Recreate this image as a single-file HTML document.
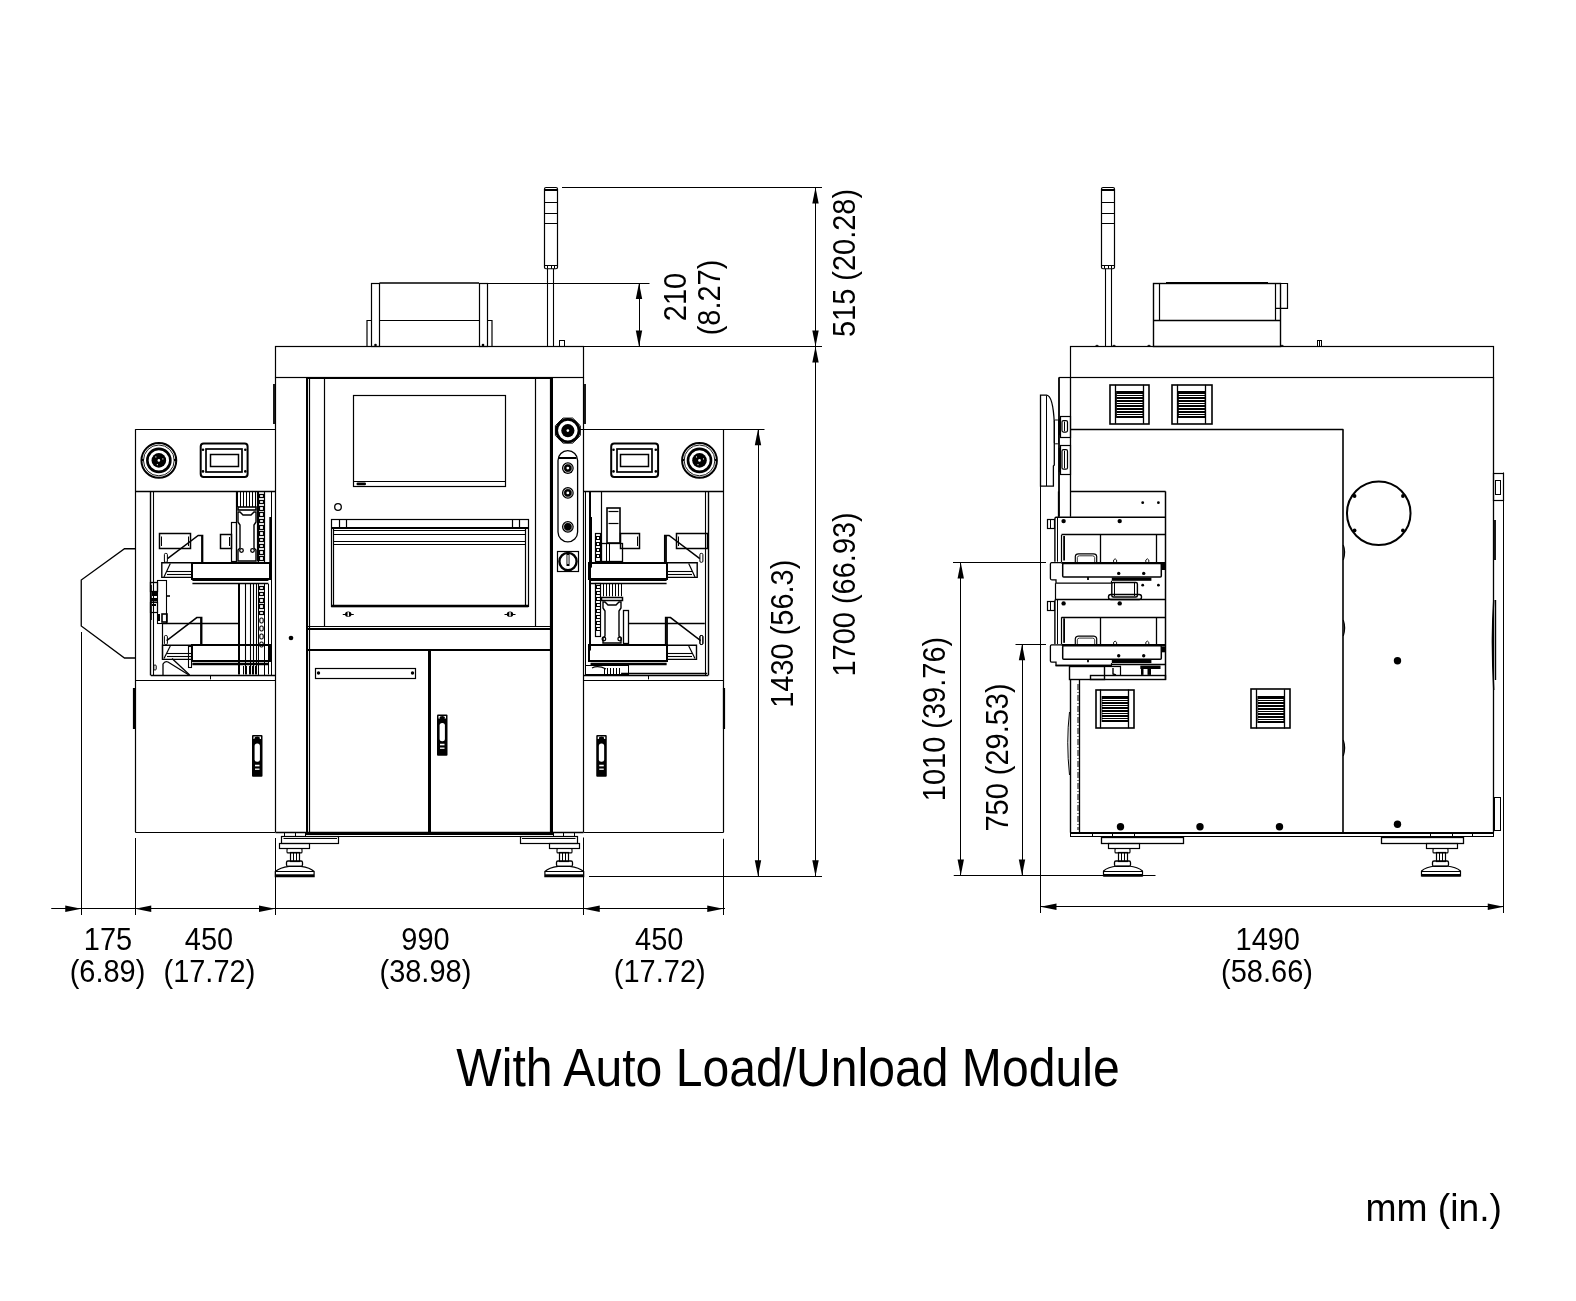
<!DOCTYPE html>
<html><head><meta charset="utf-8"><style>
html,body{margin:0;padding:0;background:#fff;}
svg{display:block;will-change:transform;}
text{font-family:"Liberation Sans",sans-serif;fill:#000;stroke:none;}
</style></head><body>
<svg width="1576" height="1301" viewBox="0 0 1576 1301" stroke="#000" fill="none" stroke-linecap="butt">
<line x1="562" y1="187.5" x2="822" y2="187.5" stroke-width="1"/>
<line x1="487" y1="283.5" x2="649.5" y2="283.5" stroke-width="1"/>
<line x1="583.5" y1="346.5" x2="822" y2="346.5" stroke-width="1"/>
<line x1="580" y1="429.5" x2="764.5" y2="429.5" stroke-width="1"/>
<line x1="589" y1="876.5" x2="822" y2="876.5" stroke-width="1"/>
<line x1="815.5" y1="187.5" x2="815.5" y2="876.25" stroke-width="1"/>
<polygon points="815.5,187.5 812.3,203.5 818.7,203.5" stroke="none" fill="#000"/>
<polygon points="815.5,346.5 812.3,330.5 818.7,330.5" stroke="none" fill="#000"/>
<polygon points="815.5,346.5 812.3,362.5 818.7,362.5" stroke="none" fill="#000"/>
<polygon points="815.5,876.25 812.3,860.25 818.7,860.25" stroke="none" fill="#000"/>
<line x1="639.5" y1="283" x2="639.5" y2="346.5" stroke-width="1"/>
<polygon points="639,283 635.8,299 642.2,299" stroke="none" fill="#000"/>
<polygon points="639,346.5 635.8,330.5 642.2,330.5" stroke="none" fill="#000"/>
<line x1="758.5" y1="429.25" x2="758.5" y2="876.25" stroke-width="1"/>
<polygon points="758,429.25 754.8,445.25 761.2,445.25" stroke="none" fill="#000"/>
<polygon points="758,876.25 754.8,860.25 761.2,860.25" stroke="none" fill="#000"/>
<line x1="51.25" y1="908.5" x2="725" y2="908.5" stroke-width="1"/>
<polygon points="81.25,908.75 65.25,905.55 65.25,911.95" stroke="none" fill="#000"/>
<polygon points="135.25,908.75 151.25,905.55 151.25,911.95" stroke="none" fill="#000"/>
<polygon points="275,908.75 259,905.55 259,911.95" stroke="none" fill="#000"/>
<polygon points="583.75,908.75 599.75,905.55 599.75,911.95" stroke="none" fill="#000"/>
<polygon points="723.25,908.75 707.25,905.55 707.25,911.95" stroke="none" fill="#000"/>
<line x1="81.5" y1="632" x2="81.5" y2="915" stroke-width="1"/>
<line x1="135.5" y1="838" x2="135.5" y2="915" stroke-width="1"/>
<line x1="275.5" y1="838" x2="275.5" y2="915" stroke-width="1"/>
<line x1="583.5" y1="837.5" x2="583.5" y2="915" stroke-width="1"/>
<line x1="723.5" y1="838.75" x2="723.5" y2="915" stroke-width="1"/>
<line x1="953" y1="562.5" x2="1046" y2="562.5" stroke-width="1"/>
<line x1="1015.5" y1="644.5" x2="1046" y2="644.5" stroke-width="1"/>
<line x1="953.75" y1="875.5" x2="1155.5" y2="875.5" stroke-width="1"/>
<line x1="960.5" y1="562.5" x2="960.5" y2="875.5" stroke-width="1"/>
<polygon points="960.75,562.5 957.55,578.5 963.95,578.5" stroke="none" fill="#000"/>
<polygon points="960.75,875.5 957.55,859.5 963.95,859.5" stroke="none" fill="#000"/>
<line x1="1022.5" y1="644.25" x2="1022.5" y2="875.5" stroke-width="1"/>
<polygon points="1022,644.25 1018.8,660.25 1025.2,660.25" stroke="none" fill="#000"/>
<polygon points="1022,875.5 1018.8,859.5 1025.2,859.5" stroke="none" fill="#000"/>
<line x1="1040.5" y1="486" x2="1040.5" y2="913" stroke-width="1"/>
<line x1="1503.5" y1="472.5" x2="1503.5" y2="913" stroke-width="1"/>
<line x1="1040.5" y1="906.5" x2="1503.75" y2="906.5" stroke-width="1"/>
<polygon points="1040.5,906.75 1056.5,903.55 1056.5,909.95" stroke="none" fill="#000"/>
<polygon points="1503.75,906.75 1487.75,903.55 1487.75,909.95" stroke="none" fill="#000"/>
<rect x="275.5" y="346.5" width="308" height="31" stroke-width="1.2" fill="none"/>
<line x1="275.5" y1="377.5" x2="275.5" y2="832.4" stroke-width="1.2"/>
<line x1="583.5" y1="377.5" x2="583.5" y2="832.4" stroke-width="1.2"/>
<line x1="274" y1="384" x2="274" y2="424" stroke-width="1.8"/>
<line x1="585" y1="384" x2="585" y2="424" stroke-width="1.8"/>
<line x1="307" y1="377.5" x2="307" y2="834" stroke-width="2"/>
<line x1="309.5" y1="377.5" x2="309.5" y2="834" stroke-width="1.2"/>
<line x1="550.5" y1="377.5" x2="550.5" y2="834" stroke-width="1.2"/>
<line x1="552" y1="377.5" x2="552" y2="834" stroke-width="2"/>
<line x1="307" y1="378" x2="552.2" y2="378" stroke-width="2"/>
<line x1="324.5" y1="378" x2="324.5" y2="626.25" stroke-width="1.2"/>
<line x1="535.5" y1="378" x2="535.5" y2="626.25" stroke-width="1.2"/>
<line x1="307" y1="626.5" x2="552" y2="626.5" stroke-width="1.2"/>
<line x1="307" y1="629" x2="552" y2="629" stroke-width="2"/>
<line x1="307" y1="650" x2="552" y2="650" stroke-width="2"/>
<line x1="429.5" y1="650.5" x2="429.5" y2="834" stroke-width="3"/>
<line x1="275.5" y1="832.5" x2="583.5" y2="832.5" stroke-width="1.3"/>
<line x1="305" y1="834" x2="553.5" y2="834" stroke-width="2.2"/>
<line x1="305" y1="836.5" x2="553.5" y2="836.5" stroke-width="1.1"/>
<rect x="353.5" y="395.5" width="152" height="91" stroke-width="1.2" fill="none"/>
<line x1="353.5" y1="481.5" x2="505.5" y2="481.5" stroke-width="1.2"/>
<rect x="356.5" y="482.6" width="9.5" height="2.6" rx="1.2" stroke="none" fill="#000"/>
<circle cx="338" cy="507" r="3.3" stroke-width="1.3" fill="none"/>
<rect x="331.5" y="519.5" width="197" height="87" stroke-width="1.2" fill="none"/>
<line x1="331.25" y1="528" x2="528" y2="528" stroke-width="2.2"/>
<line x1="333.5" y1="527.5" x2="333.5" y2="606" stroke-width="1.2"/>
<line x1="525.5" y1="527.5" x2="525.5" y2="606" stroke-width="1.2"/>
<line x1="333.75" y1="530.5" x2="525.5" y2="530.5" stroke-width="1.2"/>
<line x1="333.75" y1="534.5" x2="525.5" y2="534.5" stroke-width="1.2"/>
<line x1="333.75" y1="541.5" x2="525.5" y2="541.5" stroke-width="1.2"/>
<line x1="333.75" y1="544.5" x2="525.5" y2="544.5" stroke-width="1.2"/>
<line x1="331.25" y1="606" x2="528" y2="606" stroke-width="2.4"/>
<line x1="339.5" y1="519" x2="339.5" y2="527.5" stroke-width="1.2"/>
<line x1="346.5" y1="519" x2="346.5" y2="527.5" stroke-width="1.2"/>
<line x1="512.5" y1="519" x2="512.5" y2="527.5" stroke-width="1.2"/>
<line x1="519.5" y1="519" x2="519.5" y2="527.5" stroke-width="1.2"/>
<ellipse cx="348.25" cy="614.2" rx="3.2" ry="2.6" stroke="none" fill="#000"/>
<line x1="342.75" y1="614.5" x2="353.75" y2="614.5" stroke-width="1"/>
<rect x="347.55" y="612.2" width="1.4" height="4" stroke="none" fill="#fff"/>
<ellipse cx="510" cy="614.2" rx="3.2" ry="2.6" stroke="none" fill="#000"/>
<line x1="504.5" y1="614.5" x2="515.5" y2="614.5" stroke-width="1"/>
<rect x="509.3" y="612.2" width="1.4" height="4" stroke="none" fill="#fff"/>
<circle cx="291" cy="638" r="2.3" stroke="none" fill="#000"/>
<rect x="315.5" y="668.5" width="100" height="10" stroke-width="1.2" fill="none"/>
<circle cx="318.5" cy="673" r="1.7" stroke="none" fill="#000"/>
<circle cx="412.5" cy="673" r="1.7" stroke="none" fill="#000"/>
<rect x="437" y="714.5" width="10.5" height="41.25" rx="1" stroke="none" fill="#000"/>
<rect x="439.6" y="723.0" width="5.3" height="18.15" rx="2.5" stroke="none" fill="#fff"/>
<rect x="440" y="743.75" width="4.5" height="1.6" stroke="none" fill="#fff"/>
<rect x="440" y="747.55" width="4.5" height="1.3" stroke="none" fill="#fff"/>
<rect x="438.5" y="716.0" width="7.5" height="2.5" stroke="none" fill="#fff"/>
<ellipse cx="442.25" cy="717.7" rx="2.75" ry="1.6" stroke="none" fill="#000"/>
<path d="M563,418.1 L572.7,418.1 L580.3,425.7 L580.3,435.5 L572.7,443.1 L563,443.1 L555.4,435.5 L555.4,425.7 Z" stroke-width="1.0" fill="none"/>
<circle cx="567.85" cy="430.6" r="11.2" stroke-width="2.8" fill="none"/>
<circle cx="567.85" cy="430.6" r="6.6" stroke-width="0" fill="#000"/>
<circle cx="567.85" cy="430.6" r="1.3" stroke="none" fill="#fff"/>
<path d="M558,532.1 L558,460.5 A9.8,9.8 0 0 1 577.6,460.5 L577.6,532.1 A9.8,9.8 0 0 1 558,532.1 Z" stroke-width="1.3" fill="none"/>
<line x1="559" y1="458" x2="576.6" y2="458" stroke-width="2"/>
<circle cx="567.85" cy="468.1" r="5.9" stroke-width="0" fill="#000"/>
<circle cx="567.85" cy="468.1" r="4.3" stroke="#fff" stroke-width="0.7" fill="none"/>
<circle cx="567.85" cy="468.1" r="1.4" stroke="none" fill="#fff"/>
<circle cx="567.85" cy="492.9" r="5.9" stroke-width="0" fill="#000"/>
<circle cx="567.85" cy="492.9" r="4.3" stroke="#fff" stroke-width="0.7" fill="none"/>
<circle cx="567.85" cy="492.9" r="1.4" stroke="none" fill="#fff"/>
<circle cx="567.85" cy="526.8" r="5.9" stroke-width="0" fill="#000"/>
<circle cx="567.85" cy="526.8" r="4.3" stroke="#fff" stroke-width="0.7" fill="none"/>
<rect x="557.5" y="551.5" width="21" height="20" stroke-width="1.2" fill="none"/>
<circle cx="568" cy="561.5" r="8.6" stroke-width="2.4" fill="none"/>
<rect x="566.5" y="553" width="3.0" height="13" stroke="none" fill="#000"/>
<rect x="567.4" y="555" width="1.2" height="9" stroke="none" fill="#fff"/>
<rect x="371.5" y="283.5" width="8" height="63" stroke-width="1.2" fill="none"/>
<rect x="479.5" y="283.5" width="8" height="63" stroke-width="1.2" fill="none"/>
<line x1="379.5" y1="283" x2="479" y2="283" stroke-width="1.6"/>
<line x1="379.5" y1="320.5" x2="479" y2="320.5" stroke-width="1.2"/>
<path d="M371.5,320.5 L367,320.5 L367,346.5" stroke-width="1.2" fill="none"/>
<path d="M487,320.5 L492,320.5 L492,346.5" stroke-width="1.2" fill="none"/>
<circle cx="375.5" cy="345" r="1.3" stroke="none" fill="#000"/>
<circle cx="483" cy="345" r="1.3" stroke="none" fill="#000"/>
<rect x="544.5" y="187.5" width="13" height="81.25" stroke-width="1.2" fill="none" rx="1.5"/>
<line x1="544.5" y1="190" x2="557.5" y2="190" stroke-width="2"/>
<line x1="544.5" y1="202.5" x2="557.5" y2="202.5" stroke-width="1"/>
<line x1="544.5" y1="213.5" x2="557.5" y2="213.5" stroke-width="1"/>
<line x1="544.5" y1="223.5" x2="557.5" y2="223.5" stroke-width="1"/>
<line x1="544.5" y1="265.5" x2="557.5" y2="265.5" stroke-width="1"/>
<line x1="547.5" y1="265.5" x2="547.5" y2="268.75" stroke-width="1"/>
<line x1="551.5" y1="265.5" x2="551.5" y2="268.75" stroke-width="1"/>
<line x1="554.5" y1="265.5" x2="554.5" y2="268.75" stroke-width="1"/>
<line x1="547.5" y1="268.75" x2="547.5" y2="346.5" stroke-width="1.1"/>
<line x1="553.5" y1="268.75" x2="553.5" y2="346.5" stroke-width="1.1"/>
<rect x="559.5" y="340.5" width="5" height="6" stroke-width="1" fill="none"/>
<g transform="translate(275,0) scale(-1,1)">
<line x1="0" y1="429.5" x2="139.75" y2="429.5" stroke-width="1.2"/>
<line x1="139.5" y1="429.25" x2="139.5" y2="832" stroke-width="1.2"/>
<line x1="0" y1="832.5" x2="139.75" y2="832.5" stroke-width="1.2"/>
<line x1="0" y1="491.5" x2="139.75" y2="491.5" stroke-width="1.4"/>
<line x1="0" y1="680.5" x2="139.75" y2="680.5" stroke-width="1.2"/>
<line x1="124.5" y1="491.3" x2="124.5" y2="675.4" stroke-width="1.4"/>
<line x1="121.5" y1="491.3" x2="121.5" y2="675.4" stroke-width="1.1"/>
<line x1="0" y1="675.5" x2="124.2" y2="675.5" stroke-width="1.4"/>
<line x1="64.5" y1="675.8" x2="64.5" y2="679.4" stroke-width="1"/>
<rect x="84.5" y="533.5" width="31" height="15" stroke-width="1.5" fill="none"/>
<line x1="86.5" y1="536.5" x2="86.5" y2="546" stroke-width="1"/>
<line x1="113.5" y1="536.5" x2="113.5" y2="546" stroke-width="1"/>
<path d="M107.5,558.7 L76.8,535.5 L72.4,535.5 L72.4,562.3" stroke-width="1.5" fill="none"/>
<line x1="73" y1="535.5" x2="73" y2="562.3" stroke-width="1.8"/>
<rect x="107.6" y="553.4" width="3" height="8.9" stroke-width="1" fill="none" rx="1.2"/>
<rect x="5" y="563" width="78" height="16" stroke-width="2" fill="none"/>
<path d="M82.6,562.7 L113.2,562.7 L113.2,577.4 L82.6,577.4" stroke-width="1.4" fill="none"/>
<line x1="82.6" y1="571.5" x2="108" y2="571.5" stroke-width="1.1"/>
<line x1="82.6" y1="574.5" x2="108" y2="574.5" stroke-width="1.1"/>
<line x1="104.7" y1="563.6" x2="111" y2="576.9" stroke-width="1.2"/>
<line x1="6.6" y1="580.5" x2="82.6" y2="580.5" stroke-width="1.1"/>
<line x1="6.6" y1="583.5" x2="82.6" y2="583.5" stroke-width="1.3"/>
<path d="M108.4,640.7 L78.2,617.6 L73.3,617.6 L73.3,644.3" stroke-width="1.5" fill="none"/>
<line x1="74" y1="617.6" x2="74" y2="644.3" stroke-width="1.8"/>
<rect x="5" y="645" width="78" height="16" stroke-width="2" fill="none"/>
<path d="M82.6,645.2 L112.5,645.2 L112.5,659.4 L82.6,659.4" stroke-width="1.4" fill="none"/>
<line x1="82.6" y1="653.5" x2="108" y2="653.5" stroke-width="1.1"/>
<line x1="82.6" y1="656.5" x2="108" y2="656.5" stroke-width="1.1"/>
<line x1="104.7" y1="646" x2="111" y2="658.5" stroke-width="1.2"/>
<rect x="107.6" y="635.5" width="3" height="9" stroke-width="1" fill="none" rx="1.2"/>
<line x1="6.6" y1="663.5" x2="82.6" y2="663.5" stroke-width="1.3"/>
<line x1="6.6" y1="664.5" x2="82.6" y2="664.5" stroke-width="1.3"/>
<rect x="3.1" y="517" width="2.6" height="45.299999999999955" stroke="none" fill="#000"/>
<line x1="3.5" y1="491.3" x2="3.5" y2="675.4" stroke-width="1"/>
<line x1="10.5" y1="492" x2="10.5" y2="562" stroke-width="1.2"/>
<line x1="16.5" y1="492" x2="16.5" y2="562" stroke-width="1.2"/>
<line x1="10.5" y1="584" x2="10.5" y2="675" stroke-width="1"/>
<line x1="16.5" y1="584" x2="16.5" y2="675" stroke-width="1"/>
<rect x="11.5" y="494.5" width="4" height="3" stroke-width="1.2" fill="none"/>
<rect x="11.5" y="500.5" width="4" height="3" stroke-width="1.2" fill="none"/>
<rect x="11.5" y="506.5" width="4" height="4" stroke-width="1.2" fill="none"/>
<rect x="11.5" y="512.5" width="4" height="4" stroke-width="1.2" fill="none"/>
<rect x="11.5" y="519.5" width="4" height="3" stroke-width="1.2" fill="none"/>
<rect x="11.5" y="525.5" width="4" height="4" stroke-width="1.2" fill="none"/>
<rect x="11.5" y="531.5" width="4" height="4" stroke-width="1.2" fill="none"/>
<rect x="11.5" y="538.5" width="4" height="3" stroke-width="1.2" fill="none"/>
<rect x="11.5" y="544.5" width="4" height="3" stroke-width="1.2" fill="none"/>
<rect x="11.5" y="550.5" width="4" height="4" stroke-width="1.2" fill="none"/>
<rect x="11.5" y="556.5" width="4" height="4" stroke-width="1.2" fill="none"/>
<rect x="11.5" y="586.5" width="4" height="3" stroke-width="1.2" fill="none"/>
<rect x="11.5" y="592.5" width="4" height="3" stroke-width="1.2" fill="none"/>
<rect x="11.5" y="598.5" width="4" height="4" stroke-width="1.2" fill="none"/>
<rect x="11.5" y="604.5" width="4" height="4" stroke-width="1.2" fill="none"/>
<rect x="11.5" y="611.5" width="4" height="3" stroke-width="1.2" fill="none"/>
<rect x="11.8" y="618" width="3.4" height="5" stroke-width="1.1" fill="none" rx="1.5"/>
<rect x="11.8" y="626" width="3.4" height="5" stroke-width="1.1" fill="none" rx="1.5"/>
<rect x="11.8" y="634" width="3.4" height="5" stroke-width="1.1" fill="none" rx="1.5"/>
<rect x="11.8" y="642" width="3.4" height="5" stroke-width="1.1" fill="none" rx="1.5"/>
<line x1="19.5" y1="492" x2="19.5" y2="507" stroke-width="1"/>
<line x1="22.5" y1="492" x2="22.5" y2="507" stroke-width="1"/>
<line x1="25.5" y1="492" x2="25.5" y2="507" stroke-width="1"/>
<line x1="28.5" y1="492" x2="28.5" y2="507" stroke-width="1"/>
<line x1="31.5" y1="492" x2="31.5" y2="507" stroke-width="1"/>
<line x1="34.5" y1="492" x2="34.5" y2="507" stroke-width="1"/>
<line x1="37.5" y1="492" x2="37.5" y2="507" stroke-width="1"/>
<line x1="17.5" y1="492" x2="17.5" y2="561.4" stroke-width="1.2"/>
<line x1="38.5" y1="492" x2="38.5" y2="561.4" stroke-width="1.2"/>
<rect x="19" y="507" width="18" height="3" stroke-width="1.6" fill="none"/>
<path d="M19,512 L21,512 L24,515 L32,515 L35,512 L37,512 L37,522 L35,525 L35,548 L37,550 L37,561 L19,561 L19,550 L21,548 L21,525 L19,522 Z" stroke-width="1.4" fill="none"/>
<circle cx="22.5" cy="550.5" r="1.8" stroke-width="1.3" fill="none"/>
<circle cx="33.5" cy="550.5" r="1.8" stroke-width="1.3" fill="none"/>
<rect x="38.5" y="522.5" width="5" height="39" stroke-width="1.2" fill="none"/>
<rect x="43.5" y="534.5" width="11" height="14" stroke-width="1.5" fill="none"/>
<line x1="45.5" y1="537" x2="45.5" y2="546" stroke-width="1"/>
<rect x="108.5" y="580.5" width="9" height="43" stroke-width="1.1" fill="none"/>
<rect x="117.5" y="582.5" width="7" height="9" stroke-width="1.3" fill="none"/>
<rect x="117.5" y="592" width="5.5" height="4" stroke="none" fill="#000"/>
<rect x="118" y="598" width="6" height="3.5" stroke="none" fill="#000"/>
<rect x="117.5" y="602.5" width="7" height="10" stroke-width="1.2" fill="none"/>
<rect x="119" y="604" width="4" height="2" stroke="none" fill="#000"/>
<line x1="108" y1="596" x2="105" y2="596" stroke-width="1.6"/>
<rect x="108" y="614" width="5" height="8" stroke-width="1.6" fill="none"/>
<rect x="115" y="614" width="3" height="7" stroke="none" fill="#000"/>
<line x1="124" y1="585" x2="124" y2="620" stroke-width="1.6"/>
<line x1="36.4" y1="623.5" x2="112.8" y2="623.5" stroke-width="1.5"/>
<line x1="112.5" y1="623.9" x2="112.5" y2="659.4" stroke-width="1.2"/>
<line x1="36" y1="583.9" x2="36" y2="674.5" stroke-width="2"/>
<line x1="29.5" y1="583.9" x2="29.5" y2="674.5" stroke-width="1.1"/>
<line x1="24.5" y1="583.9" x2="24.5" y2="674.5" stroke-width="1.1"/>
<line x1="21.5" y1="583.9" x2="21.5" y2="674.5" stroke-width="1.1"/>
<line x1="18.5" y1="583.9" x2="18.5" y2="674.5" stroke-width="1.1"/>
<line x1="6.5" y1="583.9" x2="6.5" y2="674.5" stroke-width="1"/>
<rect x="83.5" y="646.5" width="3" height="21" stroke-width="1.1" fill="none"/>
<path d="M112,675 L112,664 Q110,660.5 107,662 L86.1,675" stroke-width="1.3" fill="none"/>
<line x1="103" y1="658.5" x2="85.3" y2="675" stroke-width="1.3"/>
<rect x="118.8" y="665" width="2.4" height="5" stroke-width="1" fill="none" rx="1"/>
<line x1="19.5" y1="666" x2="19.5" y2="674.5" stroke-width="1"/>
<line x1="22.5" y1="666" x2="22.5" y2="674.5" stroke-width="1"/>
<line x1="25.5" y1="666" x2="25.5" y2="674.5" stroke-width="1"/>
<line x1="28.5" y1="666" x2="28.5" y2="674.5" stroke-width="1"/>
<line x1="31.5" y1="666" x2="31.5" y2="674.5" stroke-width="1"/>
</g>
<g transform="translate(584,0) scale(1,1)">
<line x1="0" y1="429.5" x2="139.75" y2="429.5" stroke-width="1.2"/>
<line x1="139.5" y1="429.25" x2="139.5" y2="832" stroke-width="1.2"/>
<line x1="0" y1="832.5" x2="139.75" y2="832.5" stroke-width="1.2"/>
<line x1="0" y1="491.5" x2="139.75" y2="491.5" stroke-width="1.4"/>
<line x1="0" y1="680.5" x2="139.75" y2="680.5" stroke-width="1.2"/>
<line x1="124.5" y1="491.3" x2="124.5" y2="675.4" stroke-width="1.4"/>
<line x1="121.5" y1="491.3" x2="121.5" y2="675.4" stroke-width="1.1"/>
<line x1="0" y1="675.5" x2="124.2" y2="675.5" stroke-width="1.4"/>
<line x1="64.5" y1="675.8" x2="64.5" y2="679.4" stroke-width="1"/>
<rect x="92.5" y="533.5" width="31" height="15" stroke-width="1.5" fill="none"/>
<line x1="94.5" y1="536.5" x2="94.5" y2="546" stroke-width="1"/>
<line x1="121.5" y1="536.5" x2="121.5" y2="546" stroke-width="1"/>
<path d="M115.8,558.7 L85.1,535.5 L80.7,535.5 L80.7,562.3" stroke-width="1.5" fill="none"/>
<line x1="82" y1="535.5" x2="82" y2="562.3" stroke-width="1.8"/>
<rect x="115.9" y="553.4" width="3" height="8.9" stroke-width="1" fill="none" rx="1.2"/>
<rect x="5" y="563" width="78" height="16" stroke-width="2" fill="none"/>
<path d="M82.6,562.7 L113.2,562.7 L113.2,577.4 L82.6,577.4" stroke-width="1.4" fill="none"/>
<line x1="82.6" y1="571.5" x2="108" y2="571.5" stroke-width="1.1"/>
<line x1="82.6" y1="574.5" x2="108" y2="574.5" stroke-width="1.1"/>
<line x1="104.7" y1="563.6" x2="111" y2="576.9" stroke-width="1.2"/>
<line x1="6.6" y1="580.5" x2="82.6" y2="580.5" stroke-width="1.1"/>
<line x1="6.6" y1="583.5" x2="82.6" y2="583.5" stroke-width="1.3"/>
<path d="M116.7,640.7 L86.5,617.6 L81.6,617.6 L81.6,644.3" stroke-width="1.5" fill="none"/>
<line x1="83" y1="617.6" x2="83" y2="644.3" stroke-width="1.8"/>
<rect x="5" y="645" width="78" height="16" stroke-width="2" fill="none"/>
<path d="M82.6,645.2 L112.5,645.2 L112.5,659.4 L82.6,659.4" stroke-width="1.4" fill="none"/>
<line x1="82.6" y1="653.5" x2="108" y2="653.5" stroke-width="1.1"/>
<line x1="82.6" y1="656.5" x2="108" y2="656.5" stroke-width="1.1"/>
<line x1="104.7" y1="646" x2="111" y2="658.5" stroke-width="1.2"/>
<rect x="115.9" y="635.5" width="3" height="9" stroke-width="1" fill="none" rx="1.2"/>
<line x1="6.6" y1="663.5" x2="82.6" y2="663.5" stroke-width="1.3"/>
<line x1="6.6" y1="664.5" x2="82.6" y2="664.5" stroke-width="1.3"/>
<line x1="17.5" y1="491.3" x2="17.5" y2="543.6" stroke-width="1.2"/>
<rect x="5.3" y="517" width="2.7" height="50.60000000000002" stroke="none" fill="#000"/>
<line x1="1.5" y1="491.3" x2="1.5" y2="675.4" stroke-width="1"/>
<line x1="6" y1="491.3" x2="6" y2="650.5" stroke-width="2"/>
<rect x="11.5" y="533.5" width="5" height="28" stroke-width="1.2" fill="none"/>
<rect x="12.5" y="536.5" width="3" height="3" stroke-width="1" fill="none"/>
<rect x="12.5" y="542.5" width="3" height="3" stroke-width="1" fill="none"/>
<rect x="12.5" y="548.5" width="3" height="3" stroke-width="1" fill="none"/>
<rect x="12.5" y="554.5" width="3" height="3" stroke-width="1" fill="none"/>
<rect x="23" y="508" width="13" height="35" stroke-width="1.6" fill="none"/>
<line x1="24.5" y1="511.5" x2="34.5" y2="511.5" stroke-width="1.2"/>
<line x1="24.5" y1="523.5" x2="34.5" y2="523.5" stroke-width="1.2"/>
<rect x="17.5" y="543.5" width="21" height="18" stroke-width="1.3" fill="none"/>
<line x1="22.5" y1="544" x2="22.5" y2="561" stroke-width="1"/>
<line x1="25.5" y1="544" x2="25.5" y2="561" stroke-width="1"/>
<rect x="36.5" y="533.5" width="19" height="15" stroke-width="1.5" fill="none"/>
<line x1="53.5" y1="536.5" x2="53.5" y2="546" stroke-width="1"/>
<rect x="11.5" y="583.5" width="5" height="53" stroke-width="1.2" fill="none"/>
<rect x="12.5" y="585.5" width="4" height="3" stroke-width="1" fill="none"/>
<rect x="12.5" y="591.5" width="4" height="3" stroke-width="1" fill="none"/>
<rect x="12.5" y="597.5" width="4" height="3" stroke-width="1" fill="none"/>
<rect x="12.5" y="603.5" width="4" height="3" stroke-width="1" fill="none"/>
<rect x="12.5" y="609.5" width="4" height="3" stroke-width="1" fill="none"/>
<rect x="12.5" y="615.5" width="4" height="3" stroke-width="1" fill="none"/>
<rect x="12.5" y="621.5" width="4" height="3" stroke-width="1" fill="none"/>
<rect x="12.5" y="627.5" width="4" height="3" stroke-width="1" fill="none"/>
<line x1="19.5" y1="583.9" x2="19.5" y2="596.3" stroke-width="1"/>
<line x1="22.5" y1="583.9" x2="22.5" y2="596.3" stroke-width="1"/>
<line x1="25.5" y1="583.9" x2="25.5" y2="596.3" stroke-width="1"/>
<line x1="28.5" y1="583.9" x2="28.5" y2="596.3" stroke-width="1"/>
<line x1="31.5" y1="583.9" x2="31.5" y2="596.3" stroke-width="1"/>
<line x1="34.5" y1="583.9" x2="34.5" y2="596.3" stroke-width="1"/>
<line x1="37.5" y1="583.9" x2="37.5" y2="596.3" stroke-width="1"/>
<rect x="17.5" y="597.5" width="21" height="3" stroke-width="1.5" fill="none"/>
<path d="M19,602 L21,602 L24,605 L32,605 L35,602 L37,602 L37,608 L35,611 L35,636 L37,638 L37,643 L19,643 L19,638 L21,636 L21,611 L19,608 Z" stroke-width="1.4" fill="none"/>
<circle cx="19.9" cy="639" r="1.8" stroke-width="1.3" fill="none"/>
<circle cx="35.7" cy="639" r="1.8" stroke-width="1.3" fill="none"/>
<rect x="39.5" y="610.5" width="5" height="33" stroke-width="1.3" fill="none"/>
<line x1="44.4" y1="623.5" x2="120.8" y2="623.5" stroke-width="1.5"/>
<rect x="1.5" y="665.5" width="43" height="9" stroke-width="1" fill="none"/>
<line x1="20.5" y1="668" x2="20.5" y2="674.5" stroke-width="1"/>
<line x1="23.5" y1="668" x2="23.5" y2="674.5" stroke-width="1"/>
<line x1="26.5" y1="668" x2="26.5" y2="674.5" stroke-width="1"/>
<line x1="29.5" y1="668" x2="29.5" y2="674.5" stroke-width="1"/>
<line x1="32.5" y1="668" x2="32.5" y2="674.5" stroke-width="1"/>
<line x1="35.5" y1="668" x2="35.5" y2="674.5" stroke-width="1"/>
<path d="M8,668 Q14,665 22,669" stroke-width="1.3" fill="none"/>
<line x1="37.1" y1="673.5" x2="123.2" y2="673.5" stroke-width="1.5"/>
<rect x="115.9" y="635.5" width="3" height="9" stroke-width="1" fill="none" rx="1.2"/>
</g>
<circle cx="158.85" cy="460.4" r="17.4" stroke-width="2.0" fill="none"/>
<circle cx="158.85" cy="460.4" r="15.4" stroke-width="0.9" fill="none"/>
<circle cx="158.85" cy="460.4" r="11.5" stroke-width="2.6" fill="none"/>
<circle cx="158.85" cy="460.4" r="7.3" stroke-width="0" fill="#000"/>
<circle cx="155.85" cy="456.9" r="0.6" stroke="none" fill="#fff"/>
<circle cx="162.85" cy="458.9" r="0.6" stroke="none" fill="#fff"/>
<circle cx="157.35" cy="464.7" r="0.6" stroke="none" fill="#fff"/>
<circle cx="158.85" cy="460.4" r="1.3" stroke="none" fill="#fff"/>
<line x1="141.45" y1="460" x2="143.85" y2="460" stroke-width="2"/>
<line x1="173.85" y1="460" x2="176.25" y2="460" stroke-width="2"/>
<rect x="200.7" y="443.6" width="46.9" height="33.5" stroke-width="2" fill="none" rx="3"/>
<rect x="206" y="449" width="36" height="23" stroke-width="1.7" fill="none"/>
<rect x="210.5" y="454.5" width="28" height="12" stroke-width="1.5" fill="none"/>
<circle cx="203.0" cy="449.70000000000005" r="1.3" stroke="none" fill="#000"/>
<circle cx="203.0" cy="471.40000000000003" r="1.3" stroke="none" fill="#000"/>
<circle cx="245.29999999999998" cy="449.70000000000005" r="1.3" stroke="none" fill="#000"/>
<circle cx="245.29999999999998" cy="471.40000000000003" r="1.3" stroke="none" fill="#000"/>
<circle cx="699.5" cy="460.4" r="17.4" stroke-width="2.0" fill="none"/>
<circle cx="699.5" cy="460.4" r="15.4" stroke-width="0.9" fill="none"/>
<circle cx="699.5" cy="460.4" r="11.5" stroke-width="2.6" fill="none"/>
<circle cx="699.5" cy="460.4" r="7.3" stroke-width="0" fill="#000"/>
<circle cx="696.5" cy="456.9" r="0.6" stroke="none" fill="#fff"/>
<circle cx="703.5" cy="458.9" r="0.6" stroke="none" fill="#fff"/>
<circle cx="698.0" cy="464.7" r="0.6" stroke="none" fill="#fff"/>
<circle cx="699.5" cy="460.4" r="1.3" stroke="none" fill="#fff"/>
<line x1="682.1" y1="460" x2="684.5" y2="460" stroke-width="2"/>
<line x1="714.5" y1="460" x2="716.9" y2="460" stroke-width="2"/>
<rect x="611.2" y="443.6" width="46.9" height="33.5" stroke-width="2" fill="none" rx="3"/>
<rect x="617" y="449" width="35" height="23" stroke-width="1.7" fill="none"/>
<rect x="620.5" y="454.5" width="28" height="12" stroke-width="1.5" fill="none"/>
<circle cx="613.5" cy="449.70000000000005" r="1.3" stroke="none" fill="#000"/>
<circle cx="613.5" cy="471.40000000000003" r="1.3" stroke="none" fill="#000"/>
<circle cx="655.8000000000001" cy="449.70000000000005" r="1.3" stroke="none" fill="#000"/>
<circle cx="655.8000000000001" cy="471.40000000000003" r="1.3" stroke="none" fill="#000"/>
<rect x="252" y="735" width="10.5" height="41.75" rx="1" stroke="none" fill="#000"/>
<rect x="254.6" y="743.5" width="5.3" height="18.37" rx="2.5" stroke="none" fill="#fff"/>
<rect x="255" y="764.75" width="4.5" height="1.6" stroke="none" fill="#fff"/>
<rect x="255" y="768.55" width="4.5" height="1.3" stroke="none" fill="#fff"/>
<rect x="253.5" y="736.5" width="7.5" height="2.5" stroke="none" fill="#fff"/>
<ellipse cx="257.25" cy="738.2" rx="2.75" ry="1.6" stroke="none" fill="#000"/>
<rect x="596.25" y="735" width="10.5" height="41.75" rx="1" stroke="none" fill="#000"/>
<rect x="598.85" y="743.5" width="5.3" height="18.37" rx="2.5" stroke="none" fill="#fff"/>
<rect x="599.25" y="764.75" width="4.5" height="1.6" stroke="none" fill="#fff"/>
<rect x="599.25" y="768.55" width="4.5" height="1.3" stroke="none" fill="#fff"/>
<rect x="597.75" y="736.5" width="7.5" height="2.5" stroke="none" fill="#fff"/>
<ellipse cx="601.5" cy="738.2" rx="2.75" ry="1.6" stroke="none" fill="#000"/>
<line x1="134" y1="688" x2="134" y2="729" stroke-width="2.2"/>
<line x1="724" y1="688" x2="724" y2="729" stroke-width="2.2"/>
<path d="M135.25,548.75 L124.5,548.75 L81.25,580 L81.25,626 L124.5,658 L135.25,658" stroke-width="1.3" fill="none"/>
<g transform="translate(295,0) scale(1,1)">
<rect x="-10.5" y="832.5" width="21" height="4" stroke-width="1" fill="none"/>
<line x1="0.5" y1="832.4" x2="0.5" y2="836.5" stroke-width="1"/>
<rect x="-13.5" y="836.5" width="57" height="7" stroke-width="1.2" fill="none"/>
<line x1="-11.5" y1="838.5" x2="42" y2="838.5" stroke-width="1"/>
<rect x="-15.5" y="843.5" width="30" height="5" stroke-width="1.2" fill="none"/>
<rect x="-8" y="848.5" width="15" height="4.4" stroke-width="1.1" fill="none" rx="1"/>
<rect x="-4.5" y="852.5" width="9" height="9" stroke-width="1.2" fill="none"/>
<line x1="-1.5" y1="852.9" x2="-1.5" y2="861" stroke-width="1"/>
<line x1="1.5" y1="852.9" x2="1.5" y2="861" stroke-width="1"/>
<rect x="-8.5" y="861" width="16" height="5.3" stroke-width="1.3" fill="none" rx="1.5"/>
<path d="M-19.7,876.7 L-19.7,871.5 Q-15,867.5 -6,866.3 L6,866.3 Q15,867.5 19.1,871.5 L19.1,876.7 Z" stroke-width="1.2" fill="none"/>
<line x1="-19.7" y1="871.5" x2="19.1" y2="871.5" stroke-width="1"/>
<rect x="-19.7" y="874.3" width="38.8" height="2.7000000000000455" stroke="none" fill="#000"/>
</g>
<g transform="translate(564,0) scale(-1,1)">
<rect x="-10.5" y="832.5" width="21" height="4" stroke-width="1" fill="none"/>
<line x1="0.5" y1="832.4" x2="0.5" y2="836.5" stroke-width="1"/>
<rect x="-13.5" y="836.5" width="57" height="7" stroke-width="1.2" fill="none"/>
<line x1="-11.5" y1="838.5" x2="42" y2="838.5" stroke-width="1"/>
<rect x="-15.5" y="843.5" width="30" height="5" stroke-width="1.2" fill="none"/>
<rect x="-8" y="848.5" width="15" height="4.4" stroke-width="1.1" fill="none" rx="1"/>
<rect x="-4.5" y="852.5" width="9" height="9" stroke-width="1.2" fill="none"/>
<line x1="-1.5" y1="852.9" x2="-1.5" y2="861" stroke-width="1"/>
<line x1="1.5" y1="852.9" x2="1.5" y2="861" stroke-width="1"/>
<rect x="-8.5" y="861" width="16" height="5.3" stroke-width="1.3" fill="none" rx="1.5"/>
<path d="M-19.7,876.7 L-19.7,871.5 Q-15,867.5 -6,866.3 L6,866.3 Q15,867.5 19.1,871.5 L19.1,876.7 Z" stroke-width="1.2" fill="none"/>
<line x1="-19.7" y1="871.5" x2="19.1" y2="871.5" stroke-width="1"/>
<rect x="-19.7" y="874.3" width="38.8" height="2.7000000000000455" stroke="none" fill="#000"/>
</g>
<rect x="1070.5" y="346.5" width="423" height="31" stroke-width="1.2" fill="none"/>
<line x1="1058.75" y1="377.5" x2="1070.75" y2="377.5" stroke-width="1.2"/>
<line x1="1059" y1="377.5" x2="1059" y2="516.8" stroke-width="1.8"/>
<line x1="1070.5" y1="377.5" x2="1070.5" y2="516.8" stroke-width="1.3"/>
<line x1="1493.5" y1="377.5" x2="1493.5" y2="832.5" stroke-width="1.3"/>
<line x1="1070.4" y1="429.5" x2="1343.25" y2="429.5" stroke-width="1.3"/>
<line x1="1343" y1="429.3" x2="1343" y2="832.5" stroke-width="1.6"/>
<rect x="1110" y="385" width="39" height="39" stroke-width="1.6" fill="none"/>
<line x1="1115.5" y1="384.8" x2="1115.5" y2="423.8" stroke-width="1.3"/>
<line x1="1143.5" y1="384.8" x2="1143.5" y2="423.8" stroke-width="1.3"/>
<rect x="1116.1" y="391" width="27.200000000000273" height="27" stroke="none" fill="#000"/>
<rect x="1116.8999999999999" y="394" width="25.60000000000027" height="1" stroke="none" fill="#fff"/>
<rect x="1116.8999999999999" y="396" width="25.60000000000027" height="1" stroke="none" fill="#fff"/>
<rect x="1116.8999999999999" y="399" width="25.60000000000027" height="1" stroke="none" fill="#fff"/>
<rect x="1116.8999999999999" y="402" width="25.60000000000027" height="1" stroke="none" fill="#fff"/>
<rect x="1116.8999999999999" y="404" width="25.60000000000027" height="1" stroke="none" fill="#fff"/>
<rect x="1116.8999999999999" y="407" width="25.60000000000027" height="1" stroke="none" fill="#fff"/>
<rect x="1116.8999999999999" y="410" width="25.60000000000027" height="1" stroke="none" fill="#fff"/>
<rect x="1116.8999999999999" y="413" width="25.60000000000027" height="1" stroke="none" fill="#fff"/>
<rect x="1116.8999999999999" y="415" width="25.60000000000027" height="1" stroke="none" fill="#fff"/>
<rect x="1172" y="385" width="40" height="39" stroke-width="1.6" fill="none"/>
<line x1="1177.5" y1="384.8" x2="1177.5" y2="423.8" stroke-width="1.3"/>
<line x1="1205.5" y1="384.8" x2="1205.5" y2="423.8" stroke-width="1.3"/>
<rect x="1178.0" y="391" width="27.40000000000009" height="27" stroke="none" fill="#000"/>
<rect x="1178.8" y="394" width="25.80000000000009" height="1" stroke="none" fill="#fff"/>
<rect x="1178.8" y="396" width="25.80000000000009" height="1" stroke="none" fill="#fff"/>
<rect x="1178.8" y="399" width="25.80000000000009" height="1" stroke="none" fill="#fff"/>
<rect x="1178.8" y="402" width="25.80000000000009" height="1" stroke="none" fill="#fff"/>
<rect x="1178.8" y="404" width="25.80000000000009" height="1" stroke="none" fill="#fff"/>
<rect x="1178.8" y="407" width="25.80000000000009" height="1" stroke="none" fill="#fff"/>
<rect x="1178.8" y="410" width="25.80000000000009" height="1" stroke="none" fill="#fff"/>
<rect x="1178.8" y="413" width="25.80000000000009" height="1" stroke="none" fill="#fff"/>
<rect x="1178.8" y="415" width="25.80000000000009" height="1" stroke="none" fill="#fff"/>
<rect x="1096" y="690" width="38" height="38" stroke-width="1.6" fill="none"/>
<line x1="1100.5" y1="689.5" x2="1100.5" y2="728.3" stroke-width="1.3"/>
<line x1="1128.5" y1="689.5" x2="1128.5" y2="728.3" stroke-width="1.3"/>
<rect x="1101.6" y="696" width="26.800000000000182" height="26" stroke="none" fill="#000"/>
<rect x="1102.3999999999999" y="699" width="25.20000000000018" height="1" stroke="none" fill="#fff"/>
<rect x="1102.3999999999999" y="701" width="25.20000000000018" height="1" stroke="none" fill="#fff"/>
<rect x="1102.3999999999999" y="704" width="25.20000000000018" height="1" stroke="none" fill="#fff"/>
<rect x="1102.3999999999999" y="706" width="25.20000000000018" height="1" stroke="none" fill="#fff"/>
<rect x="1102.3999999999999" y="709" width="25.20000000000018" height="1" stroke="none" fill="#fff"/>
<rect x="1102.3999999999999" y="712" width="25.20000000000018" height="1" stroke="none" fill="#fff"/>
<rect x="1102.3999999999999" y="714" width="25.20000000000018" height="1" stroke="none" fill="#fff"/>
<rect x="1102.3999999999999" y="717" width="25.20000000000018" height="1" stroke="none" fill="#fff"/>
<rect x="1102.3999999999999" y="719" width="25.20000000000018" height="1" stroke="none" fill="#fff"/>
<rect x="1251" y="689" width="39" height="39" stroke-width="1.6" fill="none"/>
<line x1="1256.5" y1="689.3" x2="1256.5" y2="728.5" stroke-width="1.3"/>
<line x1="1284.5" y1="689.3" x2="1284.5" y2="728.5" stroke-width="1.3"/>
<rect x="1257.3999999999999" y="696" width="26.800000000000182" height="27" stroke="none" fill="#000"/>
<rect x="1258.1999999999998" y="699" width="25.20000000000018" height="1" stroke="none" fill="#fff"/>
<rect x="1258.1999999999998" y="701" width="25.20000000000018" height="1" stroke="none" fill="#fff"/>
<rect x="1258.1999999999998" y="704" width="25.20000000000018" height="1" stroke="none" fill="#fff"/>
<rect x="1258.1999999999998" y="707" width="25.20000000000018" height="1" stroke="none" fill="#fff"/>
<rect x="1258.1999999999998" y="710" width="25.20000000000018" height="1" stroke="none" fill="#fff"/>
<rect x="1258.1999999999998" y="712" width="25.20000000000018" height="1" stroke="none" fill="#fff"/>
<rect x="1258.1999999999998" y="715" width="25.20000000000018" height="1" stroke="none" fill="#fff"/>
<rect x="1258.1999999999998" y="718" width="25.20000000000018" height="1" stroke="none" fill="#fff"/>
<rect x="1258.1999999999998" y="720" width="25.20000000000018" height="1" stroke="none" fill="#fff"/>
<circle cx="1378.75" cy="513.2" r="31.8" stroke-width="2.0" fill="none"/>
<circle cx="1354.55" cy="496.00000000000006" r="1.9" stroke="none" fill="#000"/>
<circle cx="1402.95" cy="496.00000000000006" r="1.9" stroke="none" fill="#000"/>
<circle cx="1354.55" cy="530.4000000000001" r="1.9" stroke="none" fill="#000"/>
<circle cx="1402.95" cy="530.4000000000001" r="1.9" stroke="none" fill="#000"/>
<circle cx="1120.5" cy="826.75" r="3.7" stroke="none" fill="#000"/>
<circle cx="1200" cy="826.75" r="3.7" stroke="none" fill="#000"/>
<circle cx="1279.5" cy="826.75" r="3.7" stroke="none" fill="#000"/>
<circle cx="1397.5" cy="824.25" r="3.7" stroke="none" fill="#000"/>
<circle cx="1397.5" cy="660.75" r="3.7" stroke="none" fill="#000"/>
<line x1="1070" y1="833" x2="1493.75" y2="833" stroke-width="2.2"/>
<line x1="1092.5" y1="836.5" x2="1472" y2="836.5" stroke-width="1.2"/>
<rect x="1070.5" y="832.5" width="22" height="4" stroke-width="1" fill="none"/>
<rect x="1472.5" y="832.5" width="21" height="4" stroke-width="1" fill="none"/>
<rect x="1493.5" y="473.5" width="10" height="27" stroke-width="1.2" fill="none"/>
<rect x="1495.5" y="480.5" width="5" height="14" stroke-width="1" fill="none"/>
<rect x="1494.5" y="797.5" width="6" height="33" stroke-width="1" fill="none"/>
<line x1="1495" y1="520" x2="1495" y2="560" stroke-width="1.8"/>
<line x1="1495.5" y1="600" x2="1495.5" y2="680" stroke-width="1.4"/>
<line x1="1070.5" y1="680" x2="1070.5" y2="832.6" stroke-width="1.4"/>
<line x1="1079.5" y1="680" x2="1079.5" y2="832.6" stroke-width="1.3"/>
<line x1="1078" y1="684" x2="1078" y2="830" stroke-width="1.0" stroke-dasharray="6,2,1,2"/>
<path d="M1069.5,712 Q1066,742 1069.5,775" stroke-width="1.0" fill="none"/>
<path d="M1343.25,545 Q1346,552 1343.25,560" stroke-width="1.2" fill="none"/>
<path d="M1343.25,620 Q1346,628 1343.25,636" stroke-width="1.2" fill="none"/>
<path d="M1343.25,740 Q1346,748 1343.25,756" stroke-width="1.2" fill="none"/>
<path d="M1493.75,600 Q1491,640 1493.75,690" stroke-width="1.4" fill="none"/>
<rect x="1101.5" y="187.5" width="13" height="81.25" stroke-width="1.2" fill="none" rx="1.5"/>
<line x1="1101.5" y1="190" x2="1114.5" y2="190" stroke-width="2"/>
<line x1="1101.5" y1="202.5" x2="1114.5" y2="202.5" stroke-width="1"/>
<line x1="1101.5" y1="213.5" x2="1114.5" y2="213.5" stroke-width="1"/>
<line x1="1101.5" y1="223.5" x2="1114.5" y2="223.5" stroke-width="1"/>
<line x1="1101.5" y1="265.5" x2="1114.5" y2="265.5" stroke-width="1"/>
<line x1="1104.5" y1="265.5" x2="1104.5" y2="268.75" stroke-width="1"/>
<line x1="1108.5" y1="265.5" x2="1108.5" y2="268.75" stroke-width="1"/>
<line x1="1111.5" y1="265.5" x2="1111.5" y2="268.75" stroke-width="1"/>
<line x1="1105.5" y1="268.75" x2="1105.5" y2="346.5" stroke-width="1.1"/>
<line x1="1111.5" y1="268.75" x2="1111.5" y2="346.5" stroke-width="1.1"/>
<path d="M1095,346.5 Q1097,343.5 1099,346.5" stroke-width="1.0" fill="none"/>
<path d="M1112,346.5 Q1114,343.5 1116,346.5" stroke-width="1.0" fill="none"/>
<rect x="1153.5" y="283.5" width="127" height="63" stroke-width="1.4" fill="none"/>
<line x1="1159.5" y1="283" x2="1159.5" y2="320.5" stroke-width="1.2"/>
<line x1="1275.5" y1="283" x2="1275.5" y2="320.5" stroke-width="1.2"/>
<line x1="1153.75" y1="320.5" x2="1280" y2="320.5" stroke-width="1.3"/>
<line x1="1166" y1="283" x2="1268" y2="283" stroke-width="1.8"/>
<path d="M1275,283.5 L1287.5,283.5 L1287.5,308.3 L1275,308.3" stroke-width="1.2" fill="none"/>
<rect x="1317.5" y="340.5" width="4" height="6" stroke-width="1" fill="none"/>
<line x1="1319.5" y1="340.2" x2="1319.5" y2="346.5" stroke-width="1"/>
<path d="M1147,346.5 Q1149,343.5 1151,346.5" stroke-width="1.0" fill="none"/>
<path d="M1280,346.5 Q1282,343.5 1284,346.5" stroke-width="1.0" fill="none"/>
<path d="M1040.5,486.1 L1040.5,395.2 L1046.7,395.2 Q1053,396 1054.3,423 L1054.3,465 L1053.4,466 L1053.4,486.1 Z" stroke-width="1.3" fill="none"/>
<line x1="1046.5" y1="395.5" x2="1046.5" y2="486" stroke-width="1"/>
<rect x="1054.3" y="420" width="4.3" height="23.8" stroke-width="1" fill="none" rx="1"/>
<rect x="1060.5" y="416.5" width="10" height="21" stroke-width="1.2" fill="none"/>
<rect x="1062" y="420.6" width="5.5" height="11.5" stroke-width="1.2" fill="none" rx="1.5"/>
<line x1="1064.5" y1="421.6" x2="1064.5" y2="431.1" stroke-width="1"/>
<rect x="1058.6" y="418.6" width="2.2000000000000455" height="16.5" stroke="none" fill="#000"/>
<rect x="1060.5" y="445.5" width="10" height="29" stroke-width="1.2" fill="none"/>
<rect x="1062" y="449.7" width="5.5" height="19.5" stroke-width="1.2" fill="none" rx="1.5"/>
<line x1="1064.5" y1="450.7" x2="1064.5" y2="468.2" stroke-width="1"/>
<rect x="1058.6" y="447.7" width="2.2000000000000455" height="24.5" stroke="none" fill="#000"/>
<line x1="1070.2" y1="491.5" x2="1165.6" y2="491.5" stroke-width="1.4"/>
<line x1="1165.5" y1="491.4" x2="1165.5" y2="679.8" stroke-width="1.5"/>
<circle cx="1142.7" cy="502.7" r="1.4" stroke="none" fill="#000"/>
<circle cx="1158.4" cy="502.7" r="1.4" stroke="none" fill="#000"/>
<path d="M1165.6,517.2 L1056,517.2 Q1054.9,517.5 1054.9,519 L1054.9,561.7" stroke-width="1.4" fill="none"/>
<line x1="1057.5" y1="517.5" x2="1057.5" y2="561.7" stroke-width="1"/>
<rect x="1047.5" y="519.5" width="7" height="9" stroke-width="1.2" fill="none"/>
<line x1="1050.5" y1="519.5" x2="1050.5" y2="528" stroke-width="1"/>
<circle cx="1063.6" cy="521.1" r="2.2" stroke="none" fill="#000"/>
<circle cx="1119.7" cy="521.1" r="2.2" stroke="none" fill="#000"/>
<line x1="1061.5" y1="534.5" x2="1165.6" y2="534.5" stroke-width="1.4"/>
<line x1="1061.5" y1="534.9" x2="1061.5" y2="562" stroke-width="1.2"/>
<rect x="1063.2" y="536" width="1.7999999999999545" height="24.5" stroke="none" fill="#000"/>
<line x1="1100.5" y1="534.9" x2="1100.5" y2="562" stroke-width="1.3"/>
<line x1="1156.5" y1="534.9" x2="1156.5" y2="562" stroke-width="1.3"/>
<path d="M1075.3,562.3 L1075.3,556.5 Q1075.5,553.8 1078.5,553.8 L1093.5,553.8 Q1096.5,553.8 1096.7,556.5 L1096.7,562.3" stroke-width="1.2" fill="none"/>
<path d="M1077.3,562.3 L1077.3,557.5 Q1077.5,555.8 1079.5,555.8 L1092.5,555.8 Q1094.5,555.8 1094.7,557.5 L1094.7,562.3" stroke-width="0.8" fill="none"/>
<path d="M1113.6,562.3 L1113.6,560 Q1115.1,557.5 1116.6,560 L1116.6,562.3" stroke-width="0.9" fill="none"/>
<path d="M1145.8,562.3 L1145.8,560 Q1147.3,557.5 1148.8,560 L1148.8,562.3" stroke-width="0.9" fill="none"/>
<line x1="1061.5" y1="563" x2="1165.6" y2="563" stroke-width="2"/>
<path d="M1061.5,562.6 L1051.5,562.6 Q1050.4,562.8 1050.4,564 L1050.4,578.5 Q1050.6,579.9 1052,579.9 L1056,579.9 L1056,583.2 L1111.8,583.2" stroke-width="1.3" fill="none"/>
<rect x="1062.7" y="563.4" width="98.6" height="13.6" stroke-width="1.5" fill="none" rx="1"/>
<circle cx="1118.7" cy="573.4" r="1.7" stroke="none" fill="#000"/>
<circle cx="1143.7" cy="573.4" r="1.7" stroke="none" fill="#000"/>
<rect x="1111.8" y="577.6" width="39.600000000000136" height="3.199999999999932" stroke="none" fill="#000"/>
<line x1="1111.5" y1="580.8" x2="1111.5" y2="583.2" stroke-width="1.2"/>
<line x1="1088" y1="577" x2="1088" y2="580" stroke-width="1.8"/>
<rect x="1161.8" y="564" width="3.7999999999999545" height="6" stroke="none" fill="#000"/>
<path d="M1165.6,599.5 L1056,599.5 Q1054.9,599.8 1054.9,601.3 L1054.9,644.0" stroke-width="1.4" fill="none"/>
<line x1="1057.5" y1="599.8" x2="1057.5" y2="644" stroke-width="1"/>
<rect x="1047.5" y="601.5" width="7" height="9" stroke-width="1.2" fill="none"/>
<line x1="1050.5" y1="601.8" x2="1050.5" y2="610.3" stroke-width="1"/>
<circle cx="1063.6" cy="603.4" r="2.2" stroke="none" fill="#000"/>
<circle cx="1119.7" cy="603.4" r="2.2" stroke="none" fill="#000"/>
<line x1="1061.5" y1="617.5" x2="1165.6" y2="617.5" stroke-width="1.4"/>
<line x1="1061.5" y1="617.2" x2="1061.5" y2="644.3" stroke-width="1.2"/>
<rect x="1063.2" y="618.3" width="1.7999999999999545" height="24.5" stroke="none" fill="#000"/>
<line x1="1100.5" y1="617.2" x2="1100.5" y2="644.3" stroke-width="1.3"/>
<line x1="1156.5" y1="617.2" x2="1156.5" y2="644.3" stroke-width="1.3"/>
<path d="M1075.3,644.5999999999999 L1075.3,638.8 Q1075.5,636.0999999999999 1078.5,636.0999999999999 L1093.5,636.0999999999999 Q1096.5,636.0999999999999 1096.7,638.8 L1096.7,644.5999999999999" stroke-width="1.2" fill="none"/>
<path d="M1077.3,644.5999999999999 L1077.3,639.8 Q1077.5,638.0999999999999 1079.5,638.0999999999999 L1092.5,638.0999999999999 Q1094.5,638.0999999999999 1094.7,639.8 L1094.7,644.5999999999999" stroke-width="0.8" fill="none"/>
<path d="M1113.6,644.5999999999999 L1113.6,642.3 Q1115.1,639.8 1116.6,642.3 L1116.6,644.5999999999999" stroke-width="0.9" fill="none"/>
<path d="M1145.8,644.5999999999999 L1145.8,642.3 Q1147.3,639.8 1148.8,642.3 L1148.8,644.5999999999999" stroke-width="0.9" fill="none"/>
<line x1="1061.5" y1="645" x2="1165.6" y2="645" stroke-width="2"/>
<path d="M1061.5,644.9 L1051.5,644.9 Q1050.4,645.0999999999999 1050.4,646.3 L1050.4,660.8 Q1050.6,662.1999999999999 1052,662.1999999999999 L1056,662.1999999999999 L1056,665.5 L1111.8,665.5" stroke-width="1.3" fill="none"/>
<rect x="1062.7" y="645.7" width="98.6" height="13.6" stroke-width="1.5" fill="none" rx="1"/>
<circle cx="1118.7" cy="655.6999999999999" r="1.7" stroke="none" fill="#000"/>
<circle cx="1143.7" cy="655.6999999999999" r="1.7" stroke="none" fill="#000"/>
<rect x="1111.8" y="659.9" width="39.600000000000136" height="3.199999999999932" stroke="none" fill="#000"/>
<line x1="1111.5" y1="663.1" x2="1111.5" y2="665.5" stroke-width="1.2"/>
<line x1="1088" y1="659.3" x2="1088" y2="662.3" stroke-width="1.8"/>
<rect x="1161.8" y="646.3" width="3.7999999999999545" height="6.0" stroke="none" fill="#000"/>
<line x1="1058.5" y1="516.8" x2="1058.5" y2="491.4" stroke-width="1.3"/>
<rect x="1111.8" y="582.5" width="25.6" height="14.5" stroke-width="1.4" fill="none" rx="1.5"/>
<line x1="1114.5" y1="583" x2="1114.5" y2="596" stroke-width="1"/>
<line x1="1134.5" y1="583" x2="1134.5" y2="596" stroke-width="1"/>
<rect x="1108.5" y="594.5" width="33" height="5" rx="2.3" stroke-width="1.4" fill="none"/>
<circle cx="1142.7" cy="585.2" r="1.4" stroke="none" fill="#000"/>
<circle cx="1158.4" cy="585.2" r="1.4" stroke="none" fill="#000"/>
<line x1="1055.5" y1="583.2" x2="1055.5" y2="599.4" stroke-width="1.2"/>
<rect x="1069.5" y="666.5" width="35" height="13" stroke-width="1.4" fill="none"/>
<line x1="1104.4" y1="666.5" x2="1120.9" y2="666.5" stroke-width="1.2"/>
<line x1="1120.5" y1="665.8" x2="1120.5" y2="675.7" stroke-width="1.2"/>
<line x1="1111.8" y1="664.5" x2="1165.6" y2="664.5" stroke-width="1.4"/>
<rect x="1140.3" y="665.6" width="20.200000000000045" height="3.3999999999999773" stroke="none" fill="#000"/>
<rect x="1141" y="669" width="2.5" height="5.899999999999977" stroke="none" fill="#000"/>
<rect x="1147.5" y="669" width="3.5" height="5.899999999999977" stroke="none" fill="#000"/>
<rect x="1090.5" y="675.5" width="75" height="4" stroke-width="1.4" fill="none"/>
<line x1="1055.7" y1="665.5" x2="1111.8" y2="665.5" stroke-width="1.3"/>
<path d="M1113,668 L1113,674 L1116,675" stroke-width="1.4" fill="none"/>
<rect x="1112.5" y="832.5" width="22" height="4" stroke-width="1" fill="none"/>
<rect x="1101.5" y="837.5" width="82" height="6" stroke-width="1.3" fill="none"/>
<rect x="1108.5" y="843.5" width="31" height="5" stroke-width="1.2" fill="none"/>
<rect x="1115" y="848.5" width="15" height="4.4" stroke-width="1.1" fill="none" rx="1"/>
<rect x="1118.5" y="852.5" width="9" height="9" stroke-width="1.2" fill="none"/>
<line x1="1121.5" y1="852.9" x2="1121.5" y2="861" stroke-width="1"/>
<line x1="1124.5" y1="852.9" x2="1124.5" y2="861" stroke-width="1"/>
<rect x="1114.5" y="861" width="16" height="5.3" stroke-width="1.3" fill="none" rx="1.5"/>
<path d="M1103.5,876 L1103.5,871 Q1108,867 1117,866 L1129,866 Q1138,867 1142.5,871 L1142.5,876 Z" stroke-width="1.2" fill="none"/>
<line x1="1103.5" y1="871.5" x2="1142.5" y2="871.5" stroke-width="1"/>
<rect x="1103.5" y="874" width="39.0" height="2.5" stroke="none" fill="#000"/>
<rect x="1430.5" y="832.5" width="22" height="4" stroke-width="1" fill="none"/>
<rect x="1381.5" y="837.5" width="82" height="6" stroke-width="1.3" fill="none"/>
<rect x="1426.5" y="843.5" width="31" height="5" stroke-width="1.2" fill="none"/>
<rect x="1433" y="848.5" width="15" height="4.4" stroke-width="1.1" fill="none" rx="1"/>
<rect x="1436.5" y="852.5" width="9" height="9" stroke-width="1.2" fill="none"/>
<line x1="1439.5" y1="852.9" x2="1439.5" y2="861" stroke-width="1"/>
<line x1="1442.5" y1="852.9" x2="1442.5" y2="861" stroke-width="1"/>
<rect x="1432.5" y="861" width="16" height="5.3" stroke-width="1.3" fill="none" rx="1.5"/>
<path d="M1421.5,876 L1421.5,871 Q1426,867 1435,866 L1447,866 Q1456,867 1460.5,871 L1460.5,876 Z" stroke-width="1.2" fill="none"/>
<line x1="1421.5" y1="871.5" x2="1460.5" y2="871.5" stroke-width="1"/>
<rect x="1421.5" y="874" width="39.0" height="2.5" stroke="none" fill="#000"/>
<g transform="translate(108 950) rotate(0) scale(0.935 1.0)"><text x="0" y="0" font-size="31" text-anchor="middle">175</text></g>
<g transform="translate(107.5 981.5) rotate(0) scale(0.935 1.0)"><text x="0" y="0" font-size="31" text-anchor="middle">(6.89)</text></g>
<g transform="translate(209 950) rotate(0) scale(0.935 1.0)"><text x="0" y="0" font-size="31" text-anchor="middle">450</text></g>
<g transform="translate(209.4 981.5) rotate(0) scale(0.935 1.0)"><text x="0" y="0" font-size="31" text-anchor="middle">(17.72)</text></g>
<g transform="translate(425.5 950) rotate(0) scale(0.935 1.0)"><text x="0" y="0" font-size="31" text-anchor="middle">990</text></g>
<g transform="translate(425.4 981.5) rotate(0) scale(0.935 1.0)"><text x="0" y="0" font-size="31" text-anchor="middle">(38.98)</text></g>
<g transform="translate(659.25 950) rotate(0) scale(0.935 1.0)"><text x="0" y="0" font-size="31" text-anchor="middle">450</text></g>
<g transform="translate(659.75 981.5) rotate(0) scale(0.935 1.0)"><text x="0" y="0" font-size="31" text-anchor="middle">(17.72)</text></g>
<g transform="translate(1267.75 950) rotate(0) scale(0.935 1.0)"><text x="0" y="0" font-size="31" text-anchor="middle">1490</text></g>
<g transform="translate(1267 981.5) rotate(0) scale(0.935 1.0)"><text x="0" y="0" font-size="31" text-anchor="middle">(58.66)</text></g>
<g transform="translate(686.25 297) rotate(-90) scale(0.935 1.0)"><text x="0" y="0" font-size="31" text-anchor="middle">210</text></g>
<g transform="translate(719.5 297.5) rotate(-90) scale(0.935 1.0)"><text x="0" y="0" font-size="31" text-anchor="middle">(8.27)</text></g>
<g transform="translate(855 263) rotate(-90) scale(0.935 1.0)"><text x="0" y="0" font-size="31" text-anchor="middle">515 (20.28)</text></g>
<g transform="translate(793.25 633.75) rotate(-90) scale(0.935 1.0)"><text x="0" y="0" font-size="31" text-anchor="middle">1430 (56.3)</text></g>
<g transform="translate(855 594.4) rotate(-90) scale(0.935 1.0)"><text x="0" y="0" font-size="31" text-anchor="middle">1700 (66.93)</text></g>
<g transform="translate(944.5 719) rotate(-90) scale(0.935 1.0)"><text x="0" y="0" font-size="31" text-anchor="middle">1010 (39.76)</text></g>
<g transform="translate(1007.5 757.5) rotate(-90) scale(0.935 1.0)"><text x="0" y="0" font-size="31" text-anchor="middle">750 (29.53)</text></g>
<g transform="translate(788 1086.4) rotate(0) scale(0.908 1.0)"><text x="0" y="0" font-size="53" text-anchor="middle">With Auto Load/Unload Module</text></g>
<g transform="translate(1433.75 1221) rotate(0) scale(0.955 1.0)"><text x="0" y="0" font-size="39" text-anchor="middle">mm (in.)</text></g>
</svg></body></html>
